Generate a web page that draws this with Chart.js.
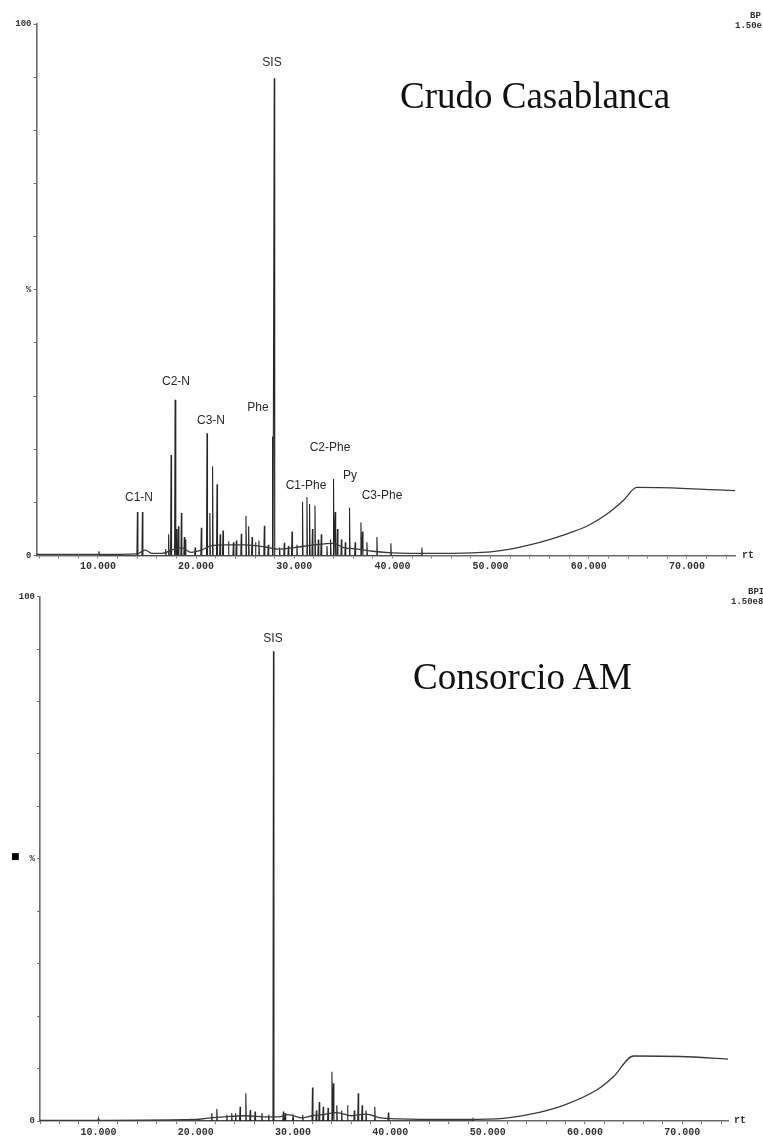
<!DOCTYPE html>
<html><head><meta charset="utf-8">
<script src="https://cdn.jsdelivr.net/npm/chart.js@4.4.0/dist/chart.umd.min.js"></script>
<style>
html,body{margin:0;padding:0;background:#fff;width:763px;height:1140px;overflow:hidden;position:relative}
canvas{position:absolute;left:0}
.t{position:absolute;white-space:nowrap;line-height:1}
.lab{font-family:"Liberation Sans",Arial,sans-serif;font-size:12px;color:#2a2a2a;transform:translate(-50%,-50%)}
.big{font-family:"Liberation Serif","Times New Roman",serif;font-size:37px;color:#111}
.mono{font-family:"Liberation Mono",monospace;font-weight:bold;font-size:9px;color:#333}
</style></head><body>
<div style="position:absolute;left:0;top:0;width:763px;height:575px"><canvas id="c1"></canvas></div>
<div style="position:absolute;left:0;top:575px;width:763px;height:565px"><canvas id="c2"></canvas></div>

<div class="t lab" style="left:272px;top:62px">SIS</div>
<div class="t big" style="left:400px;top:77px">Crudo Casablanca</div>
<div class="t lab" style="left:139px;top:497px">C1-N</div>
<div class="t lab" style="left:176px;top:381px">C2-N</div>
<div class="t lab" style="left:211px;top:420px">C3-N</div>
<div class="t lab" style="left:258px;top:407px">Phe</div>
<div class="t lab" style="left:306px;top:485px">C1-Phe</div>
<div class="t lab" style="left:330px;top:447px">C2-Phe</div>
<div class="t lab" style="left:350px;top:475px">Py</div>
<div class="t lab" style="left:382px;top:495px">C3-Phe</div>
<div class="t mono" style="left:750px;top:12px">BP</div>
<div class="t mono" style="left:735px;top:22px">1.50e</div>
<div class="t mono" style="left:742px;top:551px;font-size:10px">rt</div>

<div class="t lab" style="left:273px;top:638px">SIS</div>
<div class="t big" style="left:413px;top:658px">Consorcio AM</div>
<div class="t mono" style="left:748px;top:588px">BPI</div>
<div class="t mono" style="left:731px;top:598px">1.50e8</div>
<div class="t mono" style="left:734px;top:1116px;font-size:10px">rt</div>
<div class="t" style="left:11px;top:852px;font-size:9px;font-family:'DejaVu Sans';color:#000">■</div>

<script>
// ---------- DATA ----------
const xTickValues = [4,6,8,10,12,14,16,18,20,22,24,26,28,30,32,34,36,38,40,42,44,46,48,50,52,54,56,58,60,62,64,66,68,70,72,74];
const xTickLabels = ["10.000","20.000","30.000","40.000","50.000","60.000","70.000"];
const yTickValues = [0,10,20,30,40,50,60,70,80,90,100];
const yTickLabels = {0:"0",50:"%",100:"100"};

// Crudo Casablanca – peaks (retention time, % relative abundance)
const topPeakRt  = [10.1,14.02,14.53,16.9,17.2,17.45,17.86,18.0,18.2,18.5,18.8,18.9,19.9,20.53,21.11,21.4,21.68,22.13,22.45,22.74,23.3,23.8,24.1,24.6,25.08,25.35,25.7,26.05,26.4,26.95,27.35,27.79,27.96,28.5,28.98,29.4,29.77,30.27,30.84,31.29,31.56,31.85,32.11,32.45,32.75,33.33,33.7,34.0,34.17,34.4,34.8,35.2,35.63,36.2,36.79,36.95,37.4,38.42,39.84,43.0];
const topPeakVal = [0.8,8.2,8.2,1.2,4.0,18.9,29.3,5.0,5.5,8.0,3.5,3.0,1.5,5.2,23.0,8.0,16.8,13.4,4.0,4.7,2.7,2.5,2.8,4.1,7.5,5.5,3.5,2.5,2.8,5.6,2.0,22.4,89.8,1.5,2.4,1.8,4.5,2.0,10.1,11.0,9.7,5.0,9.4,3.0,4.0,1.8,3.0,14.4,8.2,5.0,3.0,2.5,9.0,2.5,6.2,4.5,2.5,3.5,2.3,1.5];
// Crudo Casablanca – baseline / column bleed
const topBaseRt  = [3.74,9.5,14.0,14.8,15.5,16.5,17.5,18.5,19.5,20.5,21.5,23,25,27,28.3,30,32,34,35,36.5,38,40,44,48,50,52,54,56,58,60,62,63.5,64.9,70,74.9];
const topBaseVal = [0.2,0.2,0.3,1.0,0.4,0.4,1.0,1.5,0.6,1.0,1.8,2.0,2.0,1.6,1.2,1.5,2.0,2.3,1.5,1.2,0.8,0.5,0.4,0.5,0.7,1.2,2.0,3.0,4.2,5.7,8.0,10.3,12.8,12.6,12.2];

// Consorcio AM – peaks
const botPeakRt  = [10.0,21.65,22.17,23.2,23.7,24.1,24.56,25.15,25.6,26.1,26.8,27.5,27.99,29.0,29.2,30.0,31.0,32.0,32.4,32.7,33.1,33.6,34.0,34.15,34.5,35.0,35.6,36.3,36.7,37.1,37.5,38.4,39.8,48.5];
const botPeakVal = [0.5,1.5,2.3,1.2,1.5,1.5,2.7,5.3,2.1,1.8,1.5,1.2,89.6,1.8,1.5,0.8,1.2,6.4,2.0,3.6,2.7,2.5,9.4,7.2,3.0,2.0,3.0,2.0,5.3,3.0,2.0,2.7,1.6,0.4];
// Consorcio AM – baseline
const botBaseRt  = [4.0,20,21.5,23,25,27.5,28.5,29.5,31,32,33,34.5,36,37.5,39,41,46,50.9,54.4,57.8,61.2,62.9,65.0,69.8,74.7];
const botBaseVal = [0.1,0.3,0.6,0.8,1.0,0.8,0.8,1.2,0.6,1.0,1.2,1.6,1.0,1.3,0.6,0.4,0.3,0.4,1.3,3.0,5.9,8.4,12.4,12.3,11.8];

// ---------- BUILD ----------
function spikes(rt, val){
  const pts = [];
  const w = 0.05;
  rt.forEach((r,i)=>{ pts.push({x:r-w,y:0},{x:r,y:val[i]},{x:r+w,y:0}); });
  return pts;
}
function pairs(rt, val){ return rt.map((r,i)=>({x:r,y:val[i]})); }

function makeChart(id, h, box, peakRt, peakVal, baseRt, baseVal){
  const cv = document.getElementById(id);
  cv.width = 763; cv.height = h;
  cv.style.width='763px'; cv.style.height=h+'px';
  const tickFont = {family:"'Liberation Mono', monospace", size:10, weight:'bold'};
  return new Chart(cv, {
    type:'line',
    data:{datasets:[
      {data:pairs(baseRt,baseVal), borderColor:'#3a3a3a', borderWidth:1.3, pointRadius:0, cubicInterpolationMode:'monotone', fill:false},
      {data:spikes(peakRt,peakVal), borderColor:'#262626', borderWidth:1.1, pointRadius:0, tension:0, fill:false}
    ]},
    options:{
      responsive:false, animation:false, devicePixelRatio:1,
      layout:{padding:{left:0,right:763-box.right,top:box.top,bottom:0}},
      plugins:{legend:{display:false},tooltip:{enabled:false}},
      scales:{
        x:{type:'linear', min:box.xmin, max:box.xmax,
          afterBuildTicks:s=>{s.ticks = xTickValues.map(v=>({value:v}));},
          afterFit:s=>{s.height = h-box.bottom;},
          ticks:{autoSkip:false, maxRotation:0, color:'#333', font:tickFont, padding:2,
            callback:v=>{ const k = xTickLabels.indexOf(Number(v).toFixed(3)); return k>=0 ? xTickLabels[k] : ''; }},
          grid:{drawOnChartArea:false, drawTicks:true, tickLength:3, color:'#777', lineWidth:1},
          border:{display:true, color:'#6a6a6a', width:1.6}
        },
        y:{type:'linear', min:0, max:100,
          afterBuildTicks:s=>{s.ticks = yTickValues.map(v=>({value:v}));},
          afterFit:s=>{s.width = box.left;},
          ticks:{autoSkip:false, color:'#333', font:{family:"'Liberation Mono', monospace", size:9, weight:'bold'}, padding:2,
            callback:v=> (yTickLabels[v]!==undefined ? yTickLabels[v] : '')},
          grid:{drawOnChartArea:false, drawTicks:true, tickLength:3, color:'#777', lineWidth:1},
          border:{display:true, color:'#6a6a6a', width:1.6}
        }
      }
    }
  });
}

makeChart('c1', 575, {left:36.5, right:735, top:24, bottom:555.5, xmin:3.74, xmax:74.9}, topPeakRt, topPeakVal, topBaseRt, topBaseVal);
makeChart('c2', 565, {left:40, right:728, top:21.7, bottom:546, xmin:4.0, xmax:74.7}, botPeakRt, botPeakVal, botBaseRt, botBaseVal);
</script>
</body></html>
